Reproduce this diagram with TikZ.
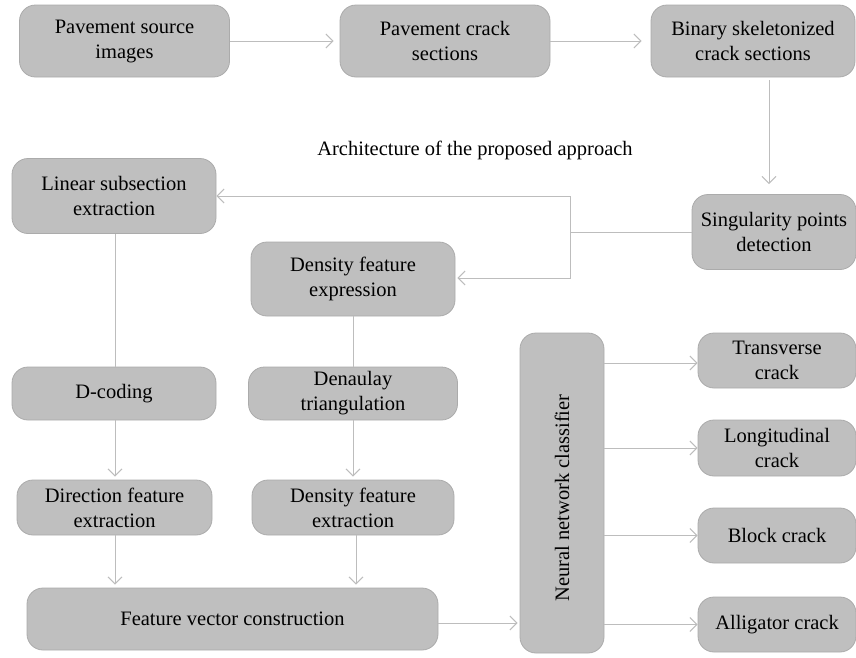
\documentclass[tikz,border=0pt]{standalone}
\usepackage{fontspec}
\setmainfont{Liberation Serif}
\usetikzlibrary{arrows.meta,calc}
\definecolor{boxfill}{HTML}{BFBFBF}
\definecolor{boxline}{HTML}{ABABAB}
\definecolor{connc}{HTML}{BDBDBD}
\begin{document}
\begin{tikzpicture}[x=1pt,y=1pt,
  box/.style={draw=boxline, fill=boxfill, line width=0.8pt, rounded corners=16pt,
    inner sep=0pt, align=center, font=\fontsize{20.5}{25}\selectfont},
  lbl/.style={inner sep=0pt, align=center, font=\fontsize{20.5}{25}\selectfont},
  conn/.style={draw=connc, line width=1pt},
  arr/.style={conn, -{Straight Barb[length=7pt,width=14pt]}}
]
\useasboundingbox (0,0) rectangle (856,-657);
% top row
\node[box, minimum width=210, minimum height=72] (src) at (124.5,-41) {Pavement source\\images};
\node[box, minimum width=210, minimum height=72] (crk) at (445,-41) {Pavement crack\\sections};
\node[box, minimum width=204, minimum height=72] (bin) at (753,-41) {Binary skeletonized\\crack sections};
\node[lbl] (title) at (475,-150) {Architecture of the proposed approach};
\node[box, minimum width=164, minimum height=75] (sing) at (774,-232) {Singularity points\\detection};
% left column
\node[box, minimum width=204, minimum height=75] (lin) at (114,-196) {Linear subsection\\extraction};
\node[box, minimum width=204, minimum height=53] (dcod) at (114,-393.5) {D-coding};
\node[box, minimum width=195, minimum height=55] (dir) at (114.5,-507.5) {Direction feature\\extraction};
% middle column
\node[box, minimum width=204, minimum height=74] (dfe) at (353,-279) {Density feature\\expression};
\node[box, minimum width=209, minimum height=53] (dtri) at (353,-393.5) {Denaulay\\triangulation};
\node[box, minimum width=202, minimum height=55] (dfx) at (353,-507.5) {Density feature\\extraction};
\node[box, minimum width=411, minimum height=62] (fvc) at (232.5,-619) {Feature vector construction};
% classifier
\node[box, minimum width=84, minimum height=320] (nnc) at (562,-493) {};
\node[lbl, rotate=90] (nnctext) at (562,-498) {Neural network classifier};
% outputs
\node[box, minimum width=158, minimum height=55] (trans) at (777,-360.5) {Transverse\\crack};
\node[box, minimum width=158, minimum height=56] (long) at (777,-448) {Longitudinal\\crack};
\node[box, minimum width=158, minimum height=55] (block) at (777,-535.5) {Block crack};
\node[box, minimum width=158, minimum height=55] (alli) at (777,-624.5) {Alligator crack};
% connectors
\draw[arr, shorten >=6pt] (src.east) -- (crk.west);
\draw[arr, shorten >=9pt] (crk.east) -- (bin.west);
\draw[arr] ([xshift=16pt,yshift=-3pt]bin.south) -- ([xshift=-5pt,yshift=10pt]sing.north);
\coordinate (j) at (570,-232);
\draw[conn] (sing.west) -- (j);
\draw[arr] (j) |- (lin.east);
\draw[arr] (j) |- ([xshift=2pt,yshift=1pt]dfe.east);
\draw[conn] ([xshift=1pt]lin.south) -- ([xshift=1pt]dcod.north);
\draw[conn] (dfe.south) -- (dtri.north);
\draw[arr, shorten >=3pt] ([xshift=1pt]dcod.south) -- ([xshift=0.5pt]dir.north);
\draw[arr, shorten >=3pt] (dtri.south) -- (dfx.north);
\draw[arr, shorten >=3pt] ([xshift=0.5pt]dir.south) -- ([xshift=0.5pt]dir.south |- fvc.north);
\draw[arr, shorten >=3pt] ([xshift=3pt]dfx.south) -- ([xshift=3pt]dfx.south |- fvc.north);
\draw[arr, shorten >=2pt] ([yshift=-4pt]fvc.east) -- ([yshift=-4pt]fvc.east -| nnc.west);
\draw[arr] ([yshift=-2.5pt]nnc.east |- trans.west) -- ([yshift=-2.5pt]trans.west);
\draw[arr] (nnc.east |- long.west) -- (long.west);
\draw[arr] (nnc.east |- block.west) -- (block.west);
\draw[arr] (nnc.east |- alli.west) -- (alli.west);
\end{tikzpicture}
\end{document}
